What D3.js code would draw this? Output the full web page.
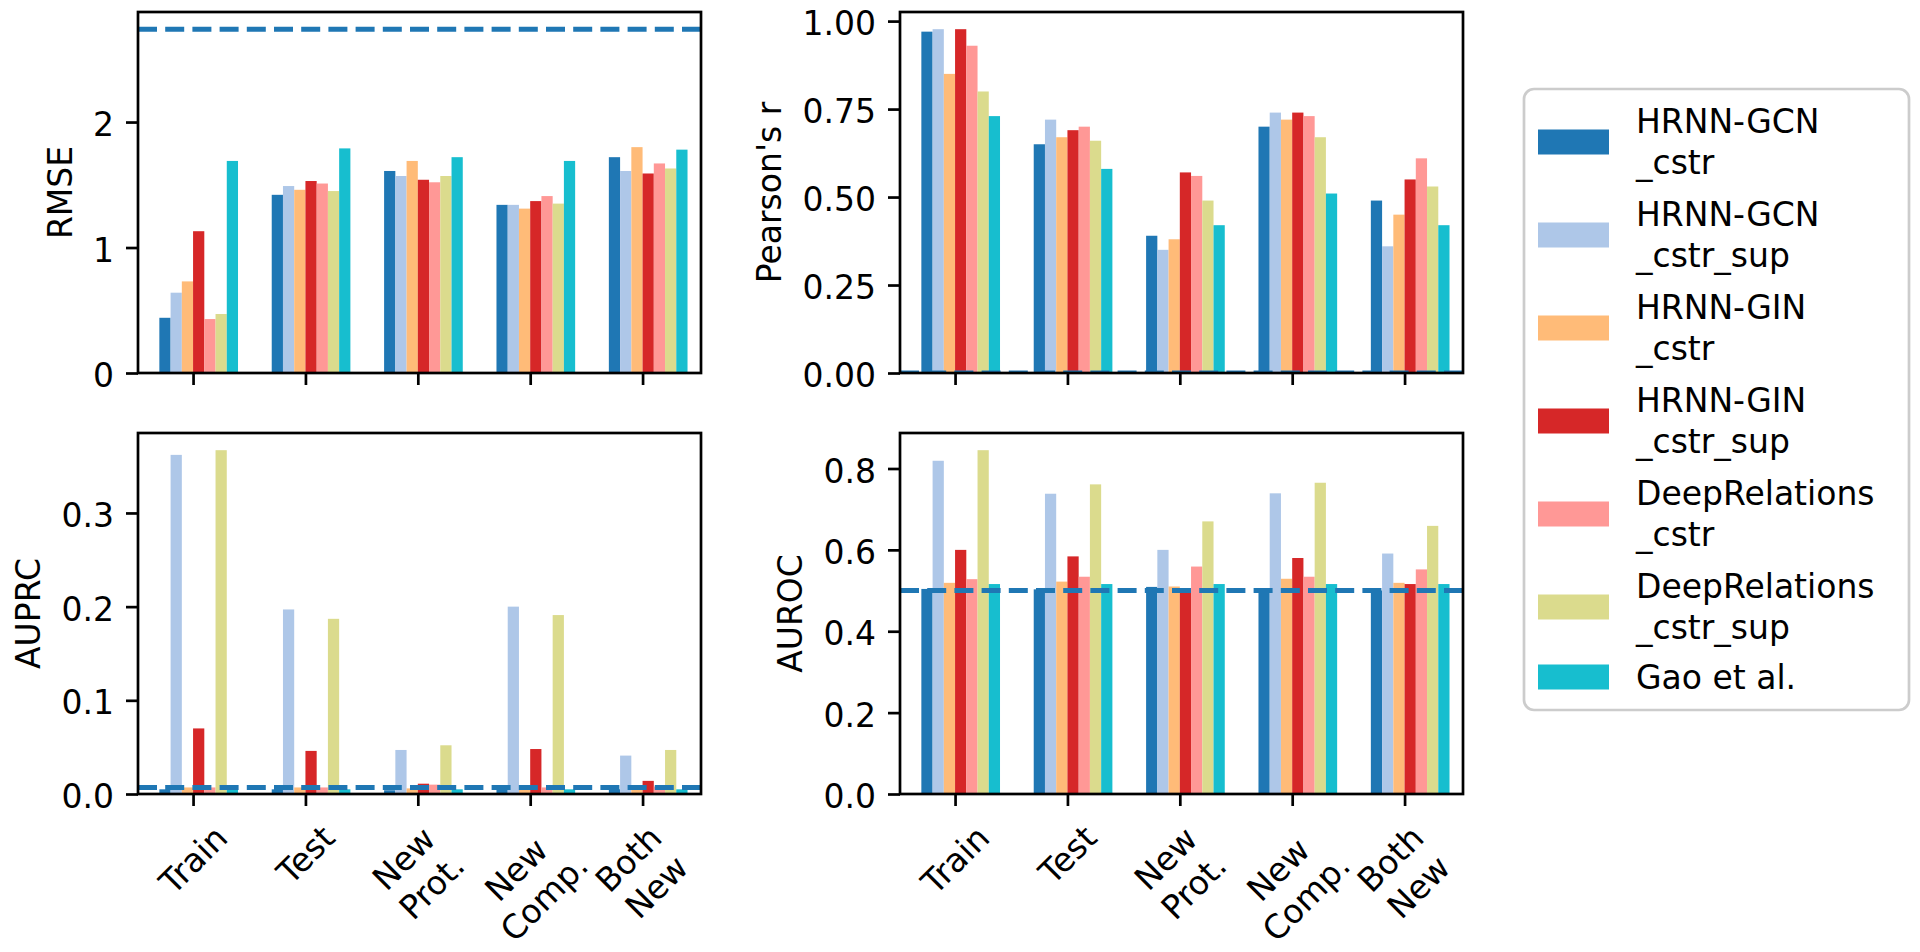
<!DOCTYPE html>
<html>
<head>
<meta charset="utf-8">
<script src="https://cdn.jsdelivr.net/npm/d3@7"></script>
<style>
  body { margin: 0; background: #fff; }
  svg text { font-family: "DejaVu Sans", sans-serif; fill: #000; }
</style>
</head>
<body>
<div id="chart"></div>
<script>
// x categories (\n = line break in the label)
var categories = ["Train", "Test", "New\nProt.", "New\nComp.", "Both\nNew"];

// models, in bar order
var models = ["HRNN-GCN\n_cstr", "HRNN-GCN\n_cstr_sup", "HRNN-GIN\n_cstr", "HRNN-GIN\n_cstr_sup",
              "DeepRelations\n_cstr", "DeepRelations\n_cstr_sup", "Gao et al."];
var colors = ["#1f77b4", "#aec7e8", "#ffbb78", "#d62728", "#ff9896", "#dbdb8d", "#17becf"];

// one row per model, one value per category
var rmse = [
    [0.44, 1.42, 1.61, 1.34, 1.72],
    [0.64, 1.49, 1.57, 1.34, 1.61],
    [0.73, 1.46, 1.69, 1.31, 1.80],
    [1.13, 1.53, 1.54, 1.37, 1.59],
    [0.43, 1.51, 1.52, 1.41, 1.67],
    [0.47, 1.45, 1.57, 1.35, 1.63],
    [1.69, 1.79, 1.72, 1.69, 1.78]
];
var pearson = [
    [0.970, 0.65, 0.39, 0.70, 0.49],
    [0.977, 0.72, 0.35, 0.74, 0.36],
    [0.850, 0.67, 0.38, 0.72, 0.45],
    [0.977, 0.69, 0.57, 0.74, 0.55],
    [0.930, 0.70, 0.56, 0.73, 0.61],
    [0.800, 0.66, 0.49, 0.67, 0.53],
    [0.730, 0.58, 0.42, 0.51, 0.42]
];
var auprc = [
    [0.005, 0.005, 0.004, 0.005, 0.005],
    [0.362, 0.197, 0.047, 0.200, 0.041],
    [0.007, 0.007, 0.006, 0.007, 0.006],
    [0.070, 0.046, 0.011, 0.048, 0.014],
    [0.007, 0.007, 0.010, 0.007, 0.008],
    [0.367, 0.187, 0.052, 0.191, 0.047],
    [0.005, 0.005, 0.005, 0.005, 0.005]
];
var auroc = [
    [0.504, 0.503, 0.509, 0.498, 0.500],
    [0.819, 0.738, 0.600, 0.739, 0.591],
    [0.519, 0.522, 0.510, 0.529, 0.519],
    [0.600, 0.584, 0.505, 0.580, 0.516],
    [0.528, 0.534, 0.559, 0.534, 0.552],
    [0.845, 0.761, 0.670, 0.765, 0.659],
    [0.516, 0.516, 0.516, 0.516, 0.516]
];

// dashed reference lines
var rmseBase = 2.74, pearsonBase = 0, auprcBase = 0.007, aurocBase = 0.5;

// tick values
var rmseTicks = [0, 1, 2],
    pearsonTicks = [0, 0.25, 0.5, 0.75, 1],
    auprcTicks = [0, 0.1, 0.2, 0.3],
    aurocTicks = [0, 0.2, 0.4, 0.6, 0.8];

// layout
var width = 1920, height = 952,
    fontSize = 33,
    panelW = 563, panelH = 361;

var panels = [
    {label: "RMSE", values: rmse, base: rmseBase, ticks: rmseTicks, fmt: "d", left: 138, top: 12, xLabels: false},
    {label: "Pearson's r", values: pearson, base: pearsonBase, ticks: pearsonTicks, fmt: ".2f", left: 900, top: 12, xLabels: false},
    {label: "AUPRC", values: auprc, base: auprcBase, ticks: auprcTicks, fmt: ".1f", left: 138, top: 433, xLabels: true},
    {label: "AUROC", values: auroc, base: aurocBase, ticks: aurocTicks, fmt: ".1f", left: 900, top: 433, xLabels: true}
];

var svg = d3.select("#chart")
    .append("svg")
    .attr("width", width)
    .attr("height", height);

// shared x scale (category index, bars 0.1 wide)
var x = d3.scaleLinear()
    .domain([-0.49, 4.52])
    .range([0, panelW]);
var barW = x(0.1) - x(0);

panels.forEach(function (p, k) {
    var maxV = d3.max(p.values.flat().concat([p.base]));
    var y = d3.scaleLinear()
        .domain([0, maxV * 1.05])
        .range([panelH, 0]);

    var g = svg.append("g").attr("transform", `translate(${p.left},${p.top})`);

    g.append("clipPath")
        .attr("id", "clip" + k)
        .append("rect")
        .attr("width", panelW)
        .attr("height", panelH);

    // bars
    g.append("g")
        .selectAll("g")
        .data(p.values)
        .join("g")
        .attr("fill", (d, i) => colors[i])
        .selectAll("rect")
        .data((d, i) => d.map((v, j) => ({v: v, i: i, j: j})))
        .join("rect")
        .attr("x", d => x(d.j + (d.i - 3) * 0.1))
        .attr("y", d => y(d.v))
        .attr("width", barW)
        .attr("height", d => y(0) - y(d.v));

    // dashed baseline
    g.append("line")
        .attr("clip-path", `url(#clip${k})`)
        .attr("x1", 0)
        .attr("x2", panelW)
        .attr("y1", y(p.base))
        .attr("y2", y(p.base))
        .attr("stroke", "#1f77b4")
        .attr("stroke-width", 5.1)
        .attr("stroke-dasharray", "19,8.2");

    // y axis
    var ya = g.append("g")
        .call(d3.axisLeft(y).tickValues(p.ticks).tickFormat(d3.format(p.fmt)).tickSize(12).tickPadding(12));
    ya.select(".domain").remove();
    ya.attr("font-size", fontSize).attr("font-family", null);
    ya.selectAll("line").attr("stroke-width", 2.7);
    ya.selectAll("text").attr("dy", "0.41em");

    // x axis ticks
    var xa = g.append("g")
        .attr("transform", `translate(0,${panelH})`)
        .call(d3.axisBottom(x).tickValues(d3.range(categories.length)).tickFormat("").tickSize(12));
    xa.select(".domain").remove();
    xa.selectAll("line").attr("stroke-width", 2.7);

    // frame
    g.append("rect")
        .attr("width", panelW)
        .attr("height", panelH)
        .attr("fill", "none")
        .attr("stroke", "#000")
        .attr("stroke-width", 2.7);

    // y label, left of the tick labels
    var minX = d3.min(ya.selectAll("text").nodes(), n => n.getBBox().x);
    g.append("text")
        .attr("transform", `translate(${minX - 13.7 - 0.236 * fontSize},${panelH / 2}) rotate(-90)`)
        .attr("text-anchor", "middle")
        .attr("font-size", fontSize)
        .text(p.label);

    // rotated category labels
    if (p.xLabels) {
        categories.forEach(function (c, j) {
            var lg = g.append("g");
            var t = lg.append("text")
                .attr("transform", "rotate(-45)")
                .attr("text-anchor", "middle")
                .attr("font-size", fontSize);
            c.split("\n").forEach(function (line, li) {
                t.append("tspan").attr("x", 0).attr("dy", li === 0 ? 0 : "1.2em").text(line);
            });
            var bb = lg.node().getBBox();
            lg.attr("transform", `translate(${x(j) - bb.x - bb.width / 2},${panelH + 24 - bb.y})`);
        });
    }
});

// legend
var legend = svg.append("g");
legend.append("rect")
    .attr("x", 1524)
    .attr("y", 89)
    .attr("width", 385)
    .attr("height", 621)
    .attr("rx", 10)
    .attr("fill", "#fff")
    .attr("stroke", "#cccccc")
    .attr("stroke-width", 2.7);

models.forEach(function (m, i) {
    var cy = i < 6 ? 142 + i * 93 : 142 + 5 * 93 + 70;
    legend.append("rect")
        .attr("x", 1538)
        .attr("y", cy - 12.5)
        .attr("width", 71)
        .attr("height", 25)
        .attr("fill", colors[i]);
    var lines = m.split("\n");
    var t = legend.append("text").attr("font-size", fontSize);
    lines.forEach(function (line, li) {
        t.append("tspan")
            .attr("x", 1636)
            .attr("y", cy + (li - (lines.length - 1) / 2) * 41)
            .attr("dy", "0.35em")
            .text(line);
    });
});
</script>
</body>
</html>
